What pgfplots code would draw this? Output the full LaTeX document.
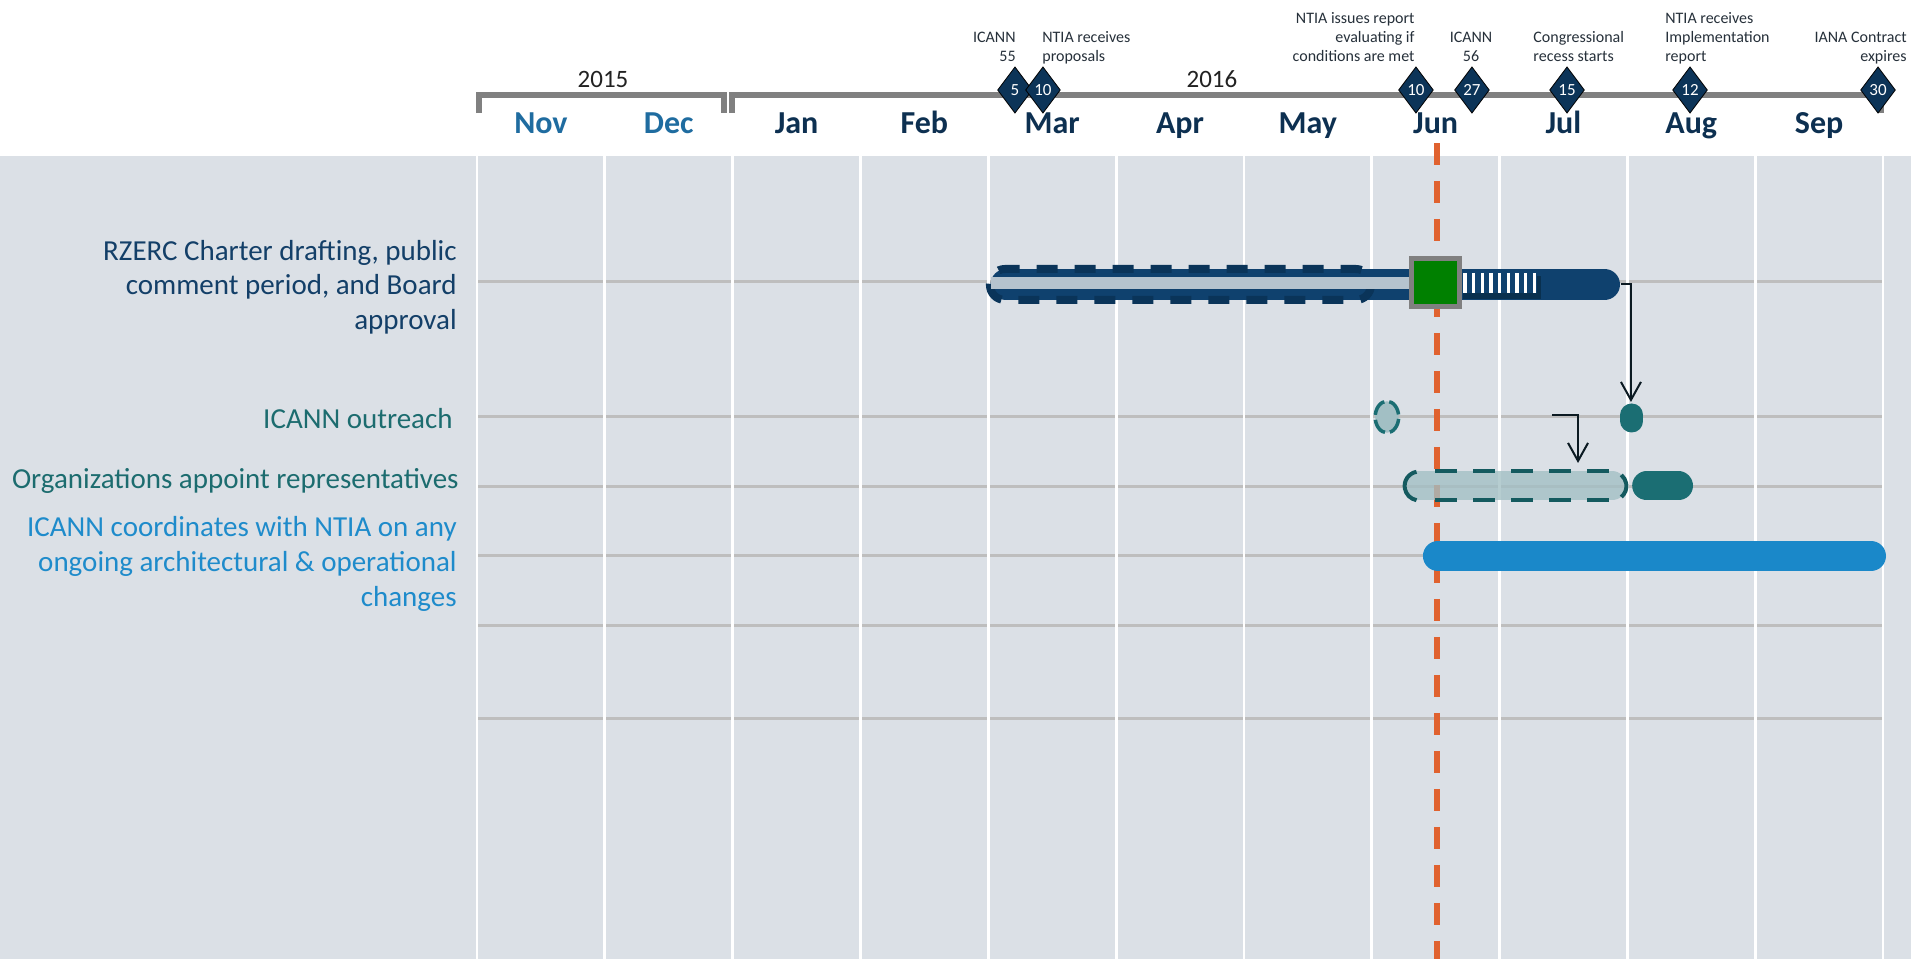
\documentclass[border=0pt]{standalone}
\usepackage{fontspec}
\setmainfont{Carlito}
\usepackage{pgfplots}
\pgfplotsset{compat=1.18}
\usetikzlibrary{shapes.geometric,arrows.meta}
\definecolor{bggray}{HTML}{DBE0E6}
\definecolor{rowgray}{HTML}{BEBEBE}
\definecolor{bracketgray}{HTML}{808080}
\definecolor{yeartext}{HTML}{222222}
\definecolor{annot}{HTML}{26303A}
\definecolor{monthnavy}{HTML}{0D3051}
\definecolor{monthblue}{HTML}{1F6CA0}
\definecolor{diamondnavy}{HTML}{0C3458}
\definecolor{labnavy}{HTML}{133F68}
\definecolor{labteal}{HTML}{1C6C6F}
\definecolor{labblue}{HTML}{1E8BCB}
\definecolor{navybar}{HTML}{0F416E}
\definecolor{navydash}{HTML}{0A3459}
\definecolor{navyshadow}{HTML}{09304F}
\definecolor{lightstripe}{HTML}{B5C3CE}
\definecolor{sqgray}{HTML}{808080}
\definecolor{gantgreen}{HTML}{008000}
\definecolor{tealsolid}{HTML}{1B6E73}
\definecolor{tealdash}{HTML}{145A5F}
\definecolor{tealfill}{HTML}{A2BFC4}
\definecolor{bluebar}{HTML}{1A88C9}
\definecolor{orangeline}{HTML}{E0622F}
\definecolor{arrowblack}{HTML}{0B1A22}
\tikzset{
  annot/.style={inner sep=0pt, font=\fontsize{8bp}{9.5bp}\selectfont, text=annot},
  lab/.style={inner sep=0pt, anchor=base east, font=\fontsize{14.5bp}{17bp}\selectfont},
  mon/.style={inner sep=0pt, anchor=base, font=\fontsize{16bp}{19bp}\selectfont\bfseries},
}
\begin{document}
\begin{tikzpicture}
\begin{axis}[
  x=63.91bp, y=0.5bp, y dir=reverse,
  xmin=0, xmax=11, ymin=0, ymax=803,
  axis lines=none, xtick=\empty, ytick=\empty,
  clip=false, scale only axis,
]
% backgrounds
\coordinate (bbA) at (axis cs:-3.732,-156);
\coordinate (bbB) at (axis cs:11.219,803);
\fill[white] (axis cs:-3.732,-156) rectangle (axis cs:11.219,0);
\fill[bggray] (axis cs:-3.732,0) rectangle (axis cs:11.219,803);
% row lines
\addplot[rowgray, line width=1.5bp] coordinates {(0,126) (11,126)};
\addplot[rowgray, line width=1.5bp] coordinates {(0,261) (11,261)};
\addplot[rowgray, line width=1.5bp] coordinates {(0,331) (11,331)};
\addplot[rowgray, line width=1.5bp] coordinates {(0,400) (11,400)};
\addplot[rowgray, line width=1.5bp] coordinates {(0,470) (11,470)};
\addplot[rowgray, line width=1.5bp] coordinates {(0,563) (11,563)};
% month gridlines
\pgfplotsinvokeforeach{0,...,11}{
  \addplot[white, line width=1.4bp] coordinates {(#1,0) (#1,803)};
}
% today line
\addplot[orangeline, line width=3bp, dash pattern=on 11bp off 8bp] coordinates {(7.511,-13) (7.511,803)};
% ---- Row 1: RZERC
\addplot[navybar, line width=15.5bp, line cap=round] coordinates {(4.139,128.5) (8.821,128.5)};
\draw[navydash, line width=4bp, dash pattern=on 10.5bp off 8.5bp, rounded corners=7.5bp] (axis cs:4.013,113) rectangle (axis cs:6.994,144);
\fill[lightstripe] (axis cs:4.021,121) rectangle (axis cs:7.338,133);
\fill[navyshadow] (axis cs:7.714,120) rectangle (axis cs:8.324,143);
\fill[navybar] (axis cs:7.700,117) rectangle (axis cs:8.290,137);
\addplot[white, line width=1.65bp, unbounded coords=jump] coordinates {
 (7.730,117) (7.730,137) (7.76,nan)
 (7.798,117) (7.798,137) (7.83,nan)
 (7.866,117) (7.866,137) (7.90,nan)
 (7.934,117) (7.934,137) (7.97,nan)
 (8.002,117) (8.002,137) (8.03,nan)
 (8.070,117) (8.070,137) (8.10,nan)
 (8.137,117) (8.137,137) (8.17,nan)
 (8.205,117) (8.205,137) (8.24,nan)
 (8.273,117) (8.273,137)};
\addplot[only marks, mark=square*, mark size=12bp, mark options={fill=gantgreen, draw=sqgray, line width=2.5bp}] coordinates {(7.499,127)};
\addplot[arrowblack, line width=1bp, -{Straight Barb[length=9bp,width=10bp]}] coordinates {(8.950,128) (9.028,128) (9.028,246)};
% ---- Row 2: ICANN outreach
\addplot[draw=none, mark=none, nodes near coords, point meta=explicit symbolic,
  every node near coord/.append style={ellipse, draw=tealsolid, fill=tealfill, line width=1.75bp,
    dash pattern=on 8.4bp off 2.5bp, dash phase=9.65bp, minimum width=11.75bp, minimum height=15.75bp,
    inner sep=0pt, anchor=center}] coordinates {(7.119,261) []};
\addplot[tealsolid, line width=11.5bp, line cap=round] coordinates {(9.036,259) (9.036,265)};
\addplot[arrowblack, line width=1bp, -{Straight Barb[length=9bp,width=10bp]}] coordinates {(8.410,259) (8.614,259) (8.614,307)};
% ---- Row 3: Organizations appoint representatives
\addplot[tealfill, opacity=0.78, line width=14.5bp, line cap=round] coordinates {(7.370,330) (8.880,330)};
\addplot[tealdash, line width=2bp, dash pattern=on 11bp off 8bp] coordinates {(7.495,315) (8.856,315)};
\addplot[tealdash, line width=2bp, dash pattern=on 11bp off 8bp] coordinates {(7.495,344) (8.856,344)};
\draw[tealdash, line width=2bp] (axis cs:7.370,330) ++(100:7.2bp) arc[start angle=100, end angle=260, radius=7.2bp];
\draw[tealdash, line width=2bp] (axis cs:8.880,330) ++(-50:7.2bp) arc[start angle=-50, end angle=50, radius=7.2bp];
\addplot[tealsolid, line width=14.5bp, line cap=round] coordinates {(9.151,330) (9.400,330)};
% ---- Row 4: ICANN coordinates with NTIA
\addplot[bluebar, line width=15bp, line cap=round] coordinates {(7.518,400) (10.906,400)};
% ---- Header: year brackets
\addplot[bracketgray, line width=3bp] coordinates {(0.016,-43) (0.016,-61) (1.932,-61) (1.932,-43)};
\addplot[bracketgray, line width=3bp] coordinates {(1.995,-43) (1.995,-61) (10.984,-61) (10.984,-43)};
\node[inner sep=0pt, anchor=base, font=\fontsize{12.5bp}{15bp}\selectfont, text=yeartext] at (axis cs:0.986,-69) {2015};
\node[inner sep=0pt, anchor=base, font=\fontsize{12.5bp}{15bp}\selectfont, text=yeartext] at (axis cs:5.75,-69) {2016};
% month labels
\node[mon, text=monthblue] at (axis cs:0.5,-23) {Nov};
\node[mon, text=monthblue] at (axis cs:1.5,-23) {Dec};
\node[mon, text=monthnavy] at (axis cs:2.5,-23) {Jan};
\node[mon, text=monthnavy] at (axis cs:3.5,-23) {Feb};
\node[mon, text=monthnavy] at (axis cs:4.5,-23) {Mar};
\node[mon, text=monthnavy] at (axis cs:5.5,-23) {Apr};
\node[mon, text=monthnavy] at (axis cs:6.5,-23) {May};
\node[mon, text=monthnavy] at (axis cs:7.5,-23) {Jun};
\node[mon, text=monthnavy] at (axis cs:8.5,-23) {Jul};
\node[mon, text=monthnavy] at (axis cs:9.5,-23) {Aug};
\node[mon, text=monthnavy] at (axis cs:10.5,-23) {Sep};
% milestones
\addplot[only marks, mark=diamond*, mark size=11.5bp, mark options={fill=diamondnavy, draw=none},
  nodes near coords, point meta=explicit symbolic,
  every node near coord/.append style={text=white, inner sep=0pt, anchor=center, font=\fontsize{8.5bp}{10bp}\selectfont}]
  coordinates {(4.209,-66) [5] (4.428,-66) [10] (7.346,-66) [10] (7.784,-66) [27] (8.528,-66) [15] (9.490,-66) [12] (10.961,-66) [30]};
% milestone annotations
\node[annot, anchor=base east] at (axis cs:4.217,-114) {ICANN};
\node[annot, anchor=base east] at (axis cs:4.217,-95) {55};
\node[annot, anchor=base west] at (axis cs:4.420,-114) {NTIA receives};
\node[annot, anchor=base west] at (axis cs:4.420,-95) {proposals};
\node[annot, anchor=base east] at (axis cs:7.338,-133) {NTIA issues report};
\node[annot, anchor=base east] at (axis cs:7.338,-114) {evaluating if};
\node[annot, anchor=base east] at (axis cs:7.338,-95) {conditions are met};
\node[annot, anchor=base] at (axis cs:7.777,-114) {ICANN};
\node[annot, anchor=base] at (axis cs:7.777,-95) {56};
\node[annot, anchor=base west] at (axis cs:8.262,-114) {Congressional};
\node[annot, anchor=base west] at (axis cs:8.262,-95) {recess starts};
\node[annot, anchor=base west] at (axis cs:9.294,-133) {NTIA receives};
\node[annot, anchor=base west] at (axis cs:9.294,-114) {Implementation};
\node[annot, anchor=base west] at (axis cs:9.294,-95) {report};
\node[annot, anchor=base east] at (axis cs:11.188,-114) {IANA Contract};
\node[annot, anchor=base east] at (axis cs:11.188,-95) {expires};
% task labels
\node[lab, text=labnavy] at (axis cs:-0.156,105) {RZERC Charter drafting, public};
\node[lab, text=labnavy] at (axis cs:-0.156,139) {comment period, and Board};
\node[lab, text=labnavy] at (axis cs:-0.156,174) {approval};
\node[lab, text=labteal] at (axis cs:-0.188,273) {ICANN outreach};
\node[lab, text=labteal] at (axis cs:-0.141,333) {Organizations appoint representatives};
\node[lab, text=labblue] at (axis cs:-0.156,381) {ICANN coordinates with NTIA on any};
\node[lab, text=labblue] at (axis cs:-0.156,416) {ongoing architectural \& operational};
\node[lab, text=labblue] at (axis cs:-0.156,451) {changes};
\end{axis}
\pgfresetboundingbox
\path (bbA) rectangle (bbB);
\end{tikzpicture}
\end{document}
